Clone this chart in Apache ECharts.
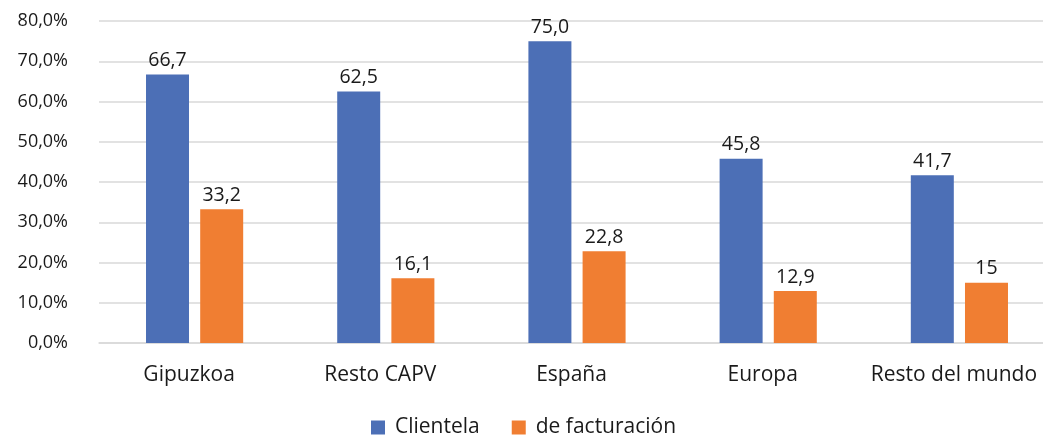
<!DOCTYPE html>
<html>
<head>
<meta charset="utf-8">
<script src="https://cdn.jsdelivr.net/npm/echarts@6/dist/echarts.min.js"></script>
<style>
  html, body { margin: 0; padding: 0; background: #fff; overflow: hidden; }
  /* wider than the window: the original is cropped at its right edge */
  #chart { width: 1055px; height: 443px; }
</style>
</head>
<body>
<div id="chart"></div>
<script>
const categories = ['Gipuzkoa', 'Resto CAPV', 'España', 'Europa', 'Resto del mundo']
const clientela = [66.7, 62.5, 75.0, 45.8, 41.7]
const facturacion = [33.2, 16.1, 22.8, 12.9, 15]
const clientelaLabels = ['66,7', '62,5', '75,0', '45,8', '41,7']
const facturacionLabels = ['33,2', '16,1', '22,8', '12,9', '15']

const FONT = 'Open Sans'
const TEXT = { color: '#1a1a1a', fontSize: 18, fontFamily: FONT }

const chart = echarts.init(document.getElementById('chart'))
chart.setOption({
  animation: false,
  grid: { left: 99, right: 0, top: 21, bottom: 100 },
  legend: {
    bottom: 0,
    left: 366,
    itemWidth: 14, itemHeight: 14, itemGap: 32,
    icon: 'rect',
    textStyle: { ...TEXT, fontSize: 21, padding: [0, 0, 0, 5] },
    data: ['Clientela', 'de facturación']
  },
  xAxis: {
    type: 'category',
    data: categories,
    axisLine: { lineStyle: { color: '#d9d9d9', width: 1.5 } },
    axisTick: { show: false },
    axisLabel: { ...TEXT, fontSize: 21, margin: 22, interval: 0, padding: [0, 11, 0, 0] }
  },
  yAxis: {
    type: 'value',
    min: 0, max: 80, interval: 10,
    axisLine: { show: false }, axisTick: { show: false },
    axisLabel: { ...TEXT, margin: 31, formatter: v => v.toFixed(1).replace('.', ',') + '%' },
    splitLine: { lineStyle: { color: '#d9d9d9', width: 1.5 } }
  },
  series: [
    {
      name: 'Clientela', type: 'bar', data: clientela,
      barWidth: 43, barGap: '26%',
      itemStyle: { color: '#4c6fb6' },
      label: { show: true, position: 'top', ...TEXT, fontSize: 19.5, distance: 4, formatter: p => clientelaLabels[p.dataIndex] }
    },
    {
      name: 'de facturación', type: 'bar', data: facturacion,
      barWidth: 43,
      itemStyle: { color: '#f07e32' },
      label: { show: true, position: 'top', ...TEXT, fontSize: 19.5, distance: 4, formatter: p => facturacionLabels[p.dataIndex] }
    }
  ]
})
</script>
</body>
</html>
